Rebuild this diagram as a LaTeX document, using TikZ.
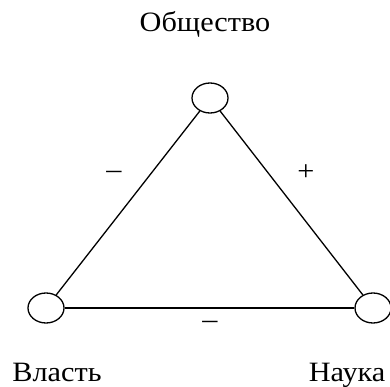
\documentclass[tikz,border=0pt]{standalone}
\usepackage{fontspec}
\setmainfont{Liberation Serif}
\usetikzlibrary{shapes.geometric}
\newcommand{\wide}[1]{\scalebox{1.08}[1]{#1}}
\begin{document}
\begin{tikzpicture}[x=1pt,y=-1pt,
  vert/.style={draw,ellipse,line width=1.3pt,minimum width=36pt,minimum height=30pt,inner sep=0pt},
  edge/.style={line width=1.3pt},
  lbl/.style={font=\fontsize{28}{32}\selectfont,inner sep=0pt,anchor=base},
  sgn/.style={font=\fontsize{28}{32}\selectfont,inner sep=0pt}]
\useasboundingbox (0,0) rectangle (390,387);
\node[vert] (s) at (210,98) {};
\node[vert] (v) at (46,308) {};
\node[vert] (n) at (373,308) {};
\draw[edge] (v) -- (s);
\draw[edge] (s) -- (n);
\draw[edge] (v) -- (n);
\node[lbl] (ls) at (205,32) {\wide{Общество}};
\node[lbl] (lv) at (57,381) {\wide{Власть}};
\node[lbl] (ln) at (347,381) {\wide{Наука}};
\node[sgn] (m1) at (114,175) {\wide{–}};
\node[sgn] (p1) at (306,173) {\wide{+}};
\node[sgn] (m2) at (210,325) {\wide{–}};
\end{tikzpicture}
\end{document}
